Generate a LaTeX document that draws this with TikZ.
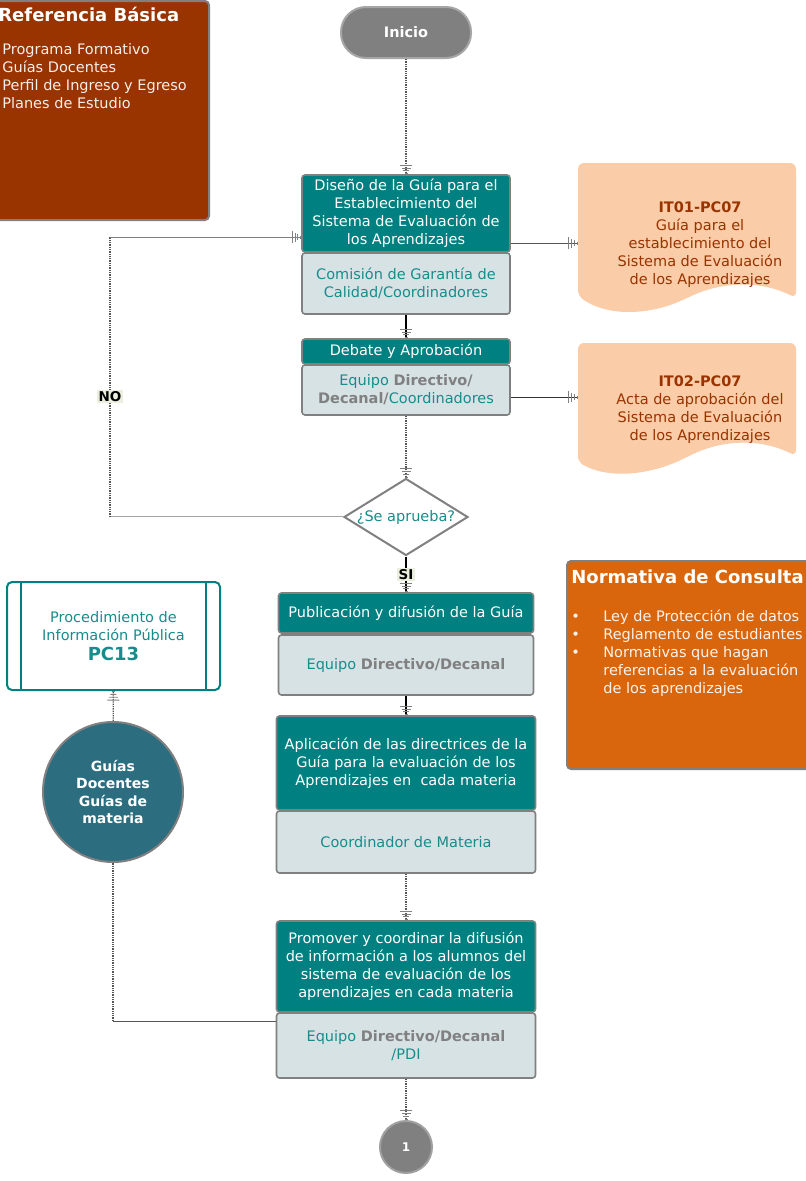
\documentclass[tikz,border=0pt]{standalone}
\usepackage{fontspec}
\setmainfont{DejaVu Sans}
\usetikzlibrary{arrows.meta,shapes.geometric}

\definecolor{stepteal}{RGB}{0,128,128}
\definecolor{rolefill}{RGB}{214,226,228}
\definecolor{roletext}{RGB}{24,140,140}
\definecolor{rimgray}{RGB}{128,128,128}
\definecolor{wiregray}{RGB}{85,85,85}
\definecolor{refbrown}{RGB}{153,51,0}
\definecolor{normorange}{RGB}{217,102,12}
\definecolor{docpeach}{RGB}{250,204,168}
\definecolor{guiasblue}{RGB}{44,110,128}
\definecolor{yesnofill}{RGB}{235,240,222}

\tikzset{every picture/.style={line width=0.75pt}}

\begin{document}
\begin{tikzpicture}[x=1pt,y=1pt,yscale=-1,xscale=1,
    txt/.style={font=\fontsize{14.5}{18}\selectfont},
    stepbox/.style={txt,rectangle,rounded corners=3pt,draw=rimgray,line width=1.6pt,
      fill=stepteal,text=white,align=center,inner sep=0pt},
    rolebox/.style={stepbox,fill=rolefill,text=roletext},
    rake/.style={-{Bar[width=12pt,line width=0.9pt,sep=2pt,color=rimgray]
      Bar[width=9pt,line width=0.9pt,sep=2pt,color=rimgray]
      Bar[width=6pt,line width=0.9pt,sep=2pt,color=rimgray]
      Bar[width=3pt,line width=0.9pt,color=rimgray]}},
    dotwire/.style={draw=wiregray,densely dotted,line width=1.3pt,rake},
    boldwire/.style={draw=black,line width=2pt,rake},
    thinwire/.style={draw=wiregray,line width=0.8pt},
    dblwire/.style={draw=rimgray!70,double=white,double distance=1pt,line width=0.6pt},
    yesno/.style={fill=yesnofill,text=black,inner sep=1.5pt,
      font=\bfseries\fontsize{13.5}{16}\selectfont},
    doctext/.style={txt,text=refbrown,align=center,inner sep=0pt}]
    \useasboundingbox (0,0) rectangle (806,1181);

    %Shape: Rectangle [Referencia] 
    \draw [fill=refbrown,draw=rimgray,line width=2pt,rounded corners=4pt] (-12,1) rectangle (209,220);
    % Text Node
    \node [anchor=west,inner sep=0pt,text=white,font=\bfseries\fontsize{18}{22}\selectfont] (reftitle) at (-2,14) {Referencia Básica};
    % Text Node
    \node [anchor=north west,inner sep=0pt,txt,text=white!92!refbrown] (reflist) at (2,42)
      {\begin{tabular}{@{}l@{}}Programa Formativo\\Guías Docentes\\Perfil de Ingreso y Egreso\\Planes de Estudio\end{tabular}};

    %Shape: Terminator [Inicio] 
    \node [rectangle,rounded corners=25pt,minimum width=130pt,minimum height=51pt,
      fill=rimgray,draw=rimgray!70,line width=2pt,text=white,font=\bfseries\fontsize{14.5}{18}\selectfont] (inicio) at (406,32.5) {Inicio};

    %Shape: Process [Diseño] 
    \node [stepbox,minimum width=208pt,minimum height=77pt] (diseno) at (406,213.5)
      {Diseño de la Guía para el\\Establecimiento del\\Sistema de Evaluación de\\los Aprendizajes};
    \node [rolebox,minimum width=208pt,minimum height=61pt] (comision) at (406,283.5)
      {Comisión de Garantía de\\Calidad/Coordinadores};

    %Shape: Process [Debate] 
    \node [stepbox,minimum width=208pt,minimum height=25pt] (debate) at (406,351.5) {Debate y Aprobación};
    \node [rolebox,minimum width=208pt,minimum height=50pt] (equipoa) at (406,390)
      {Equipo \textcolor{rimgray}{\bfseries Directivo/}\\\textcolor{rimgray}{\bfseries Decanal/}Coordinadores};

    %Shape: Document [IT01] 
    \fill [docpeach,rounded corners=6pt] (578,296) -- (578,163) -- (796,163) -- (796,298)
      .. controls (760,280) and (722,282) .. (687,298) .. controls (652,314) and (610,318) .. (578,296) -- cycle;
    \coordinate (itain) at (578,243);
    % Text Node
    \node [doctext] (ita) at (700,245)
      {{\bfseries IT01-PC07}\\Guía para el\\establecimiento del\\Sistema de Evaluación\\de los Aprendizajes};

    %Shape: Document [IT02] 
    \fill [docpeach,rounded corners=6pt] (578,462) -- (578,343) -- (796,343) -- (796,456)
      .. controls (760,438) and (722,440) .. (687,457) .. controls (652,474) and (610,480) .. (578,462) -- cycle;
    \coordinate (itbin) at (578,397);
    % Text Node
    \node [doctext] (itb) at (700,410)
      {{\bfseries IT02-PC07}\\Acta de aprobación del\\Sistema de Evaluación\\de los Aprendizajes};

    %Shape: Decision [Aprueba] 
    \node [diamond,draw=rimgray,line width=2pt,fill=white,minimum width=124pt,minimum height=77pt,inner sep=0pt] (aprueba) at (406,517) {};
    \node [txt,text=roletext,inner sep=0pt] (apruebatxt) at (aprueba) {¿Se aprueba?};

    %Shape: Process [Publicacion] 
    \node [stepbox,minimum width=255pt,minimum height=40pt] (publica) at (406,613) {Publicación y difusión de la Guía};
    \node [rolebox,minimum width=255pt,minimum height=60pt] (equipob) at (406,665)
      {Equipo \textcolor{rimgray}{\bfseries Directivo/Decanal}};

    %Shape: Process [Aplicacion] 
    \node [stepbox,minimum width=259pt,minimum height=94pt] (aplica) at (406,763)
      {Aplicación de las directrices de la\\Guía para la evaluación de los\\Aprendizajes en\ \ cada materia};
    \node [rolebox,minimum width=259pt,minimum height=62pt] (coord) at (406,842) {Coordinador de Materia};

    %Shape: Process [Promover] 
    \node [stepbox,minimum width=259pt,minimum height=91pt] (promueve) at (406,966.5)
      {Promover y coordinar la difusión\\de información a los alumnos del\\sistema de evaluación de los\\aprendizajes en cada materia};
    \node [rolebox,minimum width=259pt,minimum height=65pt] (equipoc) at (406,1045.5)
      {Equipo \textcolor{rimgray}{\bfseries Directivo/Decanal}\\/PDI};

    %Shape: Connector [1] 
    \node [circle,minimum size=52pt,inner sep=0pt,fill=rimgray,draw=rimgray!75,line width=2pt,
      text=white,font=\bfseries\fontsize{12}{14}\selectfont] (uno) at (406,1147) {1};

    %Shape: Predefined Process [PC13] 
    \node [txt,rectangle,rounded corners=5pt,draw=stepteal,line width=2pt,fill=white,text=roletext,
      minimum width=213pt,minimum height=108pt,align=center,inner sep=0pt] (pc13) at (113.5,636)
      {Procedimiento de\\Información Pública\\[2pt]{\bfseries\fontsize{18}{20}\selectfont PC13}};
    \draw [stepteal,line width=2pt] ([xshift=15pt]pc13.north west) -- ([xshift=15pt]pc13.south west);
    \draw [stepteal,line width=2pt] ([xshift=-15pt]pc13.north east) -- ([xshift=-15pt]pc13.south east);

    %Shape: Circle [Guias] 
    \node [circle,minimum size=140pt,inner sep=0pt,fill=guiasblue,draw=rimgray,line width=2pt,
      text=white,align=center,font=\bfseries\fontsize{14}{17.5}\selectfont] (guias) at (113,792)
      {Guías\\Docentes\\Guías de\\materia};

    %Shape: Rectangle [Normativa] 
    \draw [fill=normorange,draw=rimgray,line width=2pt,rounded corners=4pt] (567,561) rectangle (822,769);
    % Text Node
    \node [anchor=west,inner sep=0pt,text=white,font=\bfseries\fontsize{18}{22}\selectfont] (normtitle) at (571,577) {Normativa de Consulta};
    % Text Node
    \node [anchor=north west,inner sep=0pt,txt,text=white!92!normorange] (normlist) at (571,609)
      {\begin{tabular}{@{}p{32pt}@{}l@{}}•&Ley de Protección de datos\\•&Reglamento de estudiantes\\•&Normativas que hagan\\&referencias a la evaluación\\&de los aprendizajes\end{tabular}};

    %Straight Lines 
    \draw [dotwire] (inicio) -- (diseno);
    \draw [boldwire] (comision) -- (debate);
    \draw [thinwire,rake] (diseno.east |- itain) -- (itain);
    \draw [thinwire,draw=black!80,rake] (equipoa.east |- itbin) -- (itbin);
    \draw [dotwire] (equipoa) -- (aprueba);

    %Straight Lines [NO] 
    \coordinate (nobot) at (110,517);
    \coordinate (notop) at (110,237);
    \draw [dblwire] (aprueba) -- (nobot);
    \draw [dotwire,-] (nobot) -- node [pos=0.43,yesno] (nolbl) {NO} (notop);
    \draw [thinwire,draw=rimgray,rake] (notop) -- (notop -| diseno.west);

    %Straight Lines [SI] 
    \draw [boldwire] (aprueba) -- node [yesno] (silbl) {SI} (publica);
    \draw [boldwire] (equipob) -- (aplica);
    \draw [dotwire] (coord) -- (promueve);
    \draw [dotwire] (equipoc) -- (uno);

    %Straight Lines [Guias] 
    \coordinate (gdturn) at (113,1021);
    \draw [thinwire] (gdturn -| equipoc.west) -- (gdturn);
    \draw [dotwire,-] (gdturn) -- (guias);
    \draw [dotwire] (guias) -- (pc13);

  \end{tikzpicture}
\end{document}
